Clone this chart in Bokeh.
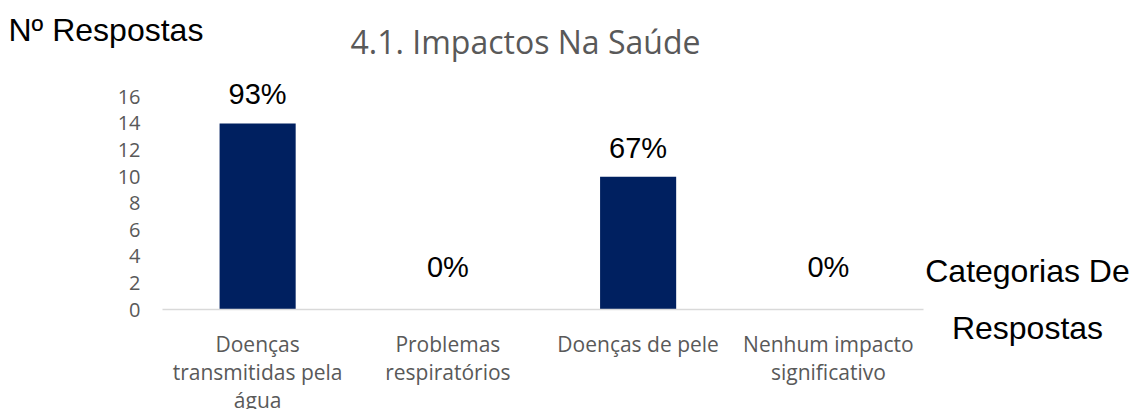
from bokeh.plotting import figure
from bokeh.models import (ColumnDataSource, Range1d, FixedTicker, LabelSet, Label)
from bokeh.core.properties import value
from bokeh.embed import file_html
from bokeh.resources import INLINE

# ---- data ----
categories = ["Doenças\ntransmitidas pela\nágua", "Problemas\nrespiratórios",
              "Doenças de pele", "Nenhum impacto\nsignificativo"]
counts = [14, 0, 10, 0]
percent_labels = ["93%", "0%", "67%", "0%"]
y_ticks = [0, 2, 4, 6, 8, 10, 12, 14, 16]
title_text = "4.1. Impactos Na Saúde"
y_title = "Nº Respostas"
x_title = "Categorias De\nRespostas"

# ---- layout constants (pixels) ----
W, H = 1131, 409
PLOT_LEFT, PLOT_RIGHT = 162, 923      # x-axis extent on the canvas
ZERO_Y = 309                          # canvas y of value 0
PX_PER_UNIT = 13.286                  # vertical pixels per response
GRAY = "#595959"
BAR = "#002060"

n = len(categories)
px_per_cat = (PLOT_RIGHT - PLOT_LEFT) / n
x_range = Range1d(-PLOT_LEFT / px_per_cat, n + (W - PLOT_RIGHT) / px_per_cat)
y_range = Range1d(-(H - ZERO_Y) / PX_PER_UNIT, ZERO_Y / PX_PER_UNIT)

p = figure(width=W, height=H, x_range=x_range, y_range=y_range,
           output_backend="svg", toolbar_location=None,
           min_border=0, min_border_left=0, min_border_right=0,
           min_border_top=0, min_border_bottom=0)
p.outline_line_color = None
p.xgrid.grid_line_color = None
p.ygrid.grid_line_color = None
p.background_fill_color = "white"
p.border_fill_color = "white"

xpos = [i + 0.5 for i in range(n)]
src = ColumnDataSource(dict(x=xpos, cnt=counts, pct=percent_labels,
                            off=[19 if c > 0 else 33 for c in counts]))

p.vbar(x="x", top="cnt", width=0.4, source=src, fill_color=BAR, line_color=None)

# y axis (fixed inside the full-canvas frame)
yax = p.yaxis[0]
yax.fixed_location = 0
yax.ticker = FixedTicker(ticks=y_ticks)
yax.axis_line_color = None
yax.major_tick_line_color = None
yax.minor_tick_line_color = None
yax.major_label_text_font = "Open Sans"
yax.major_label_text_font_size = "20px"
yax.major_label_text_color = GRAY
yax.major_label_standoff = 16

# x axis with category labels
xax = p.xaxis[0]
xax.fixed_location = 0
xax.bounds = (0, n)
xax.ticker = FixedTicker(ticks=xpos)
xax.major_label_overrides = {x: c for x, c in zip(xpos, categories)}
xax.axis_line_color = "#d9d9d9"
xax.axis_line_width = 1.5
xax.major_tick_line_color = None
xax.minor_tick_line_color = None
xax.major_label_text_font = "Open Sans"
xax.major_label_text_font_size = "21px"
xax.major_label_text_color = GRAY
xax.major_label_text_line_height = 1.0
xax.major_label_standoff = 14

# value labels
val_labels = LabelSet(x="x", y="cnt", text="pct", source=src, y_offset="off",
                      text_align="center", text_baseline="alphabetic",
                      text_font=value("Liberation Sans"), text_font_size=value("29px"),
                      text_color="black")
p.add_layout(val_labels)

p.add_layout(Label(x=8, y=29, x_units="canvas", y_units="canvas", text=y_title,
                   text_font="Liberation Sans", text_font_size="32px",
                   text_color="black", text_align="left", text_baseline="middle"))
p.add_layout(Label(x=525, y=41, x_units="canvas", y_units="canvas", text=title_text,
                   text_font="Open Sans", text_font_size="32px",
                   text_color=GRAY, text_align="center", text_baseline="middle"))
p.add_layout(Label(x=1027, y=299, x_units="canvas", y_units="canvas", text=x_title,
                   text_font="Liberation Sans", text_font_size="32px",
                   text_color="black", text_align="center", text_baseline="middle",
                   text_line_height=1.58))

open("out.html", "w").write(file_html(p, INLINE))
